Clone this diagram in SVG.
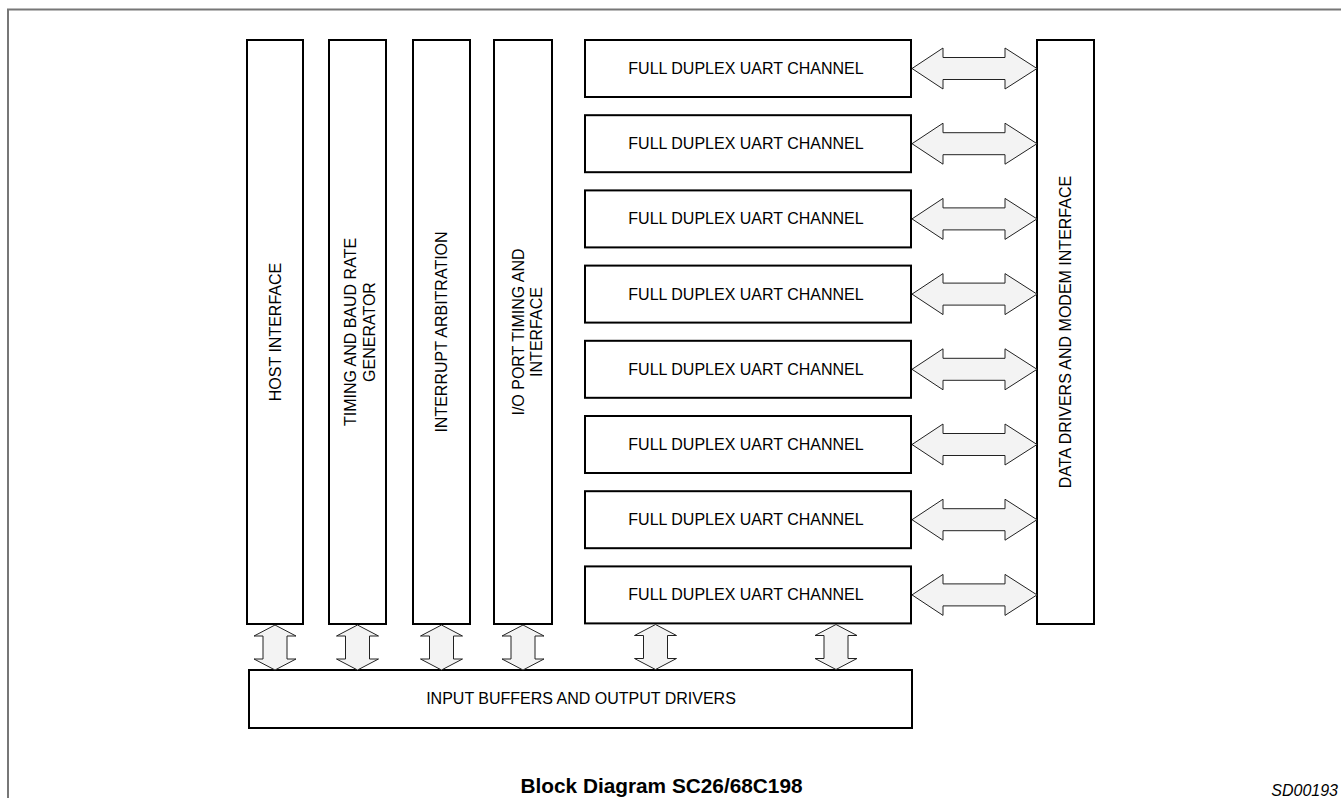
<svg xmlns="http://www.w3.org/2000/svg" width="1341" height="798" viewBox="0 0 1341 798">
<style>
.box{fill:#fff;stroke:#000;stroke-width:2}
.arr{fill:#f3f3f3;stroke:#222;stroke-width:1}
.t{font-family:"Liberation Sans",Arial,sans-serif;font-size:16px;fill:#000}
</style>
<defs>
<polygon id="harr" class="arr" points="0,0 31,-20.5 31,-11 93,-11 93,-20.5 125,0 93,20.5 93,11 31,11 31,20.5"/>
<polygon id="varr" class="arr" points="0,0 21,11 12,11 12,34 21,34 0,45 -21,34 -12,34 -12,11 -21,11"/>
</defs>
<rect width="1341" height="798" fill="#fff"/>
<polyline points="8,798 8,9.5 1341,9.5" fill="none" stroke="#777" stroke-width="2"/>

<g id="host">
<rect class="box" x="247" y="40" width="56" height="584"/>
<text class="t" text-anchor="middle" transform="translate(281,332) rotate(-90)">HOST INTERFACE</text>
</g>
<g id="timing">
<rect class="box" x="329" y="40" width="57" height="584"/>
<text class="t" text-anchor="middle" transform="translate(356,332) rotate(-90)">TIMING AND BAUD RATE</text>
<text class="t" text-anchor="middle" transform="translate(375,332) rotate(-90)">GENERATOR</text>
</g>
<g id="interrupt">
<rect class="box" x="413" y="40" width="57" height="584"/>
<text class="t" text-anchor="middle" transform="translate(447,332) rotate(-90)">INTERRUPT ARBITRATION</text>
</g>
<g id="ioport">
<rect class="box" x="494" y="40" width="58" height="584"/>
<text class="t" text-anchor="middle" transform="translate(524,332) rotate(-90)">I/O PORT TIMING AND</text>
<text class="t" text-anchor="middle" transform="translate(542,332) rotate(-90)">INTERFACE</text>
</g>

<g id="uart1"><rect class="box" x="585" y="40" width="326" height="57"/><text class="t" x="746" y="74" text-anchor="middle">FULL DUPLEX UART CHANNEL</text></g>
<g id="uart2"><rect class="box" x="585" y="115.2" width="326" height="57"/><text class="t" x="746" y="149.2" text-anchor="middle">FULL DUPLEX UART CHANNEL</text></g>
<g id="uart3"><rect class="box" x="585" y="190.4" width="326" height="57"/><text class="t" x="746" y="224.4" text-anchor="middle">FULL DUPLEX UART CHANNEL</text></g>
<g id="uart4"><rect class="box" x="585" y="265.6" width="326" height="57"/><text class="t" x="746" y="299.6" text-anchor="middle">FULL DUPLEX UART CHANNEL</text></g>
<g id="uart5"><rect class="box" x="585" y="340.8" width="326" height="57"/><text class="t" x="746" y="374.8" text-anchor="middle">FULL DUPLEX UART CHANNEL</text></g>
<g id="uart6"><rect class="box" x="585" y="416" width="326" height="57"/><text class="t" x="746" y="450" text-anchor="middle">FULL DUPLEX UART CHANNEL</text></g>
<g id="uart7"><rect class="box" x="585" y="491.2" width="326" height="57"/><text class="t" x="746" y="525.2" text-anchor="middle">FULL DUPLEX UART CHANNEL</text></g>
<g id="uart8"><rect class="box" x="585" y="566.4" width="326" height="57"/><text class="t" x="746" y="600.4" text-anchor="middle">FULL DUPLEX UART CHANNEL</text></g>

<g id="datadrivers">
<rect class="box" x="1037" y="40" width="57" height="584"/>
<text class="t" text-anchor="middle" transform="translate(1071,332) rotate(-90)">DATA DRIVERS AND MODEM INTERFACE</text>
</g>

<g id="buffers">
<rect class="box" x="249" y="670" width="663" height="58"/>
<text class="t" x="581" y="704" text-anchor="middle">INPUT BUFFERS AND OUTPUT DRIVERS</text>
</g>

<g id="connectors">
<use href="#harr" x="912" y="68.5"/>
<use href="#harr" x="912" y="143.7"/>
<use href="#harr" x="912" y="218.9"/>
<use href="#harr" x="912" y="294.1"/>
<use href="#harr" x="912" y="369.3"/>
<use href="#harr" x="912" y="444.5"/>
<use href="#harr" x="912" y="519.7"/>
<use href="#harr" x="912" y="594.9"/>
<use href="#varr" x="275" y="625"/>
<use href="#varr" x="357.5" y="625"/>
<use href="#varr" x="441.5" y="625"/>
<use href="#varr" x="523" y="625"/>
<use href="#varr" x="655.5" y="624.5"/>
<use href="#varr" x="836" y="624.5"/>
</g>

<text x="661.5" y="793" text-anchor="middle" font-family="Liberation Sans, Arial, sans-serif" font-size="20.8" font-weight="bold">Block Diagram SC26/68C198</text>
<text x="1338" y="796" text-anchor="end" font-family="Liberation Sans, Arial, sans-serif" font-size="16" font-style="italic">SD00193</text>
</svg>
